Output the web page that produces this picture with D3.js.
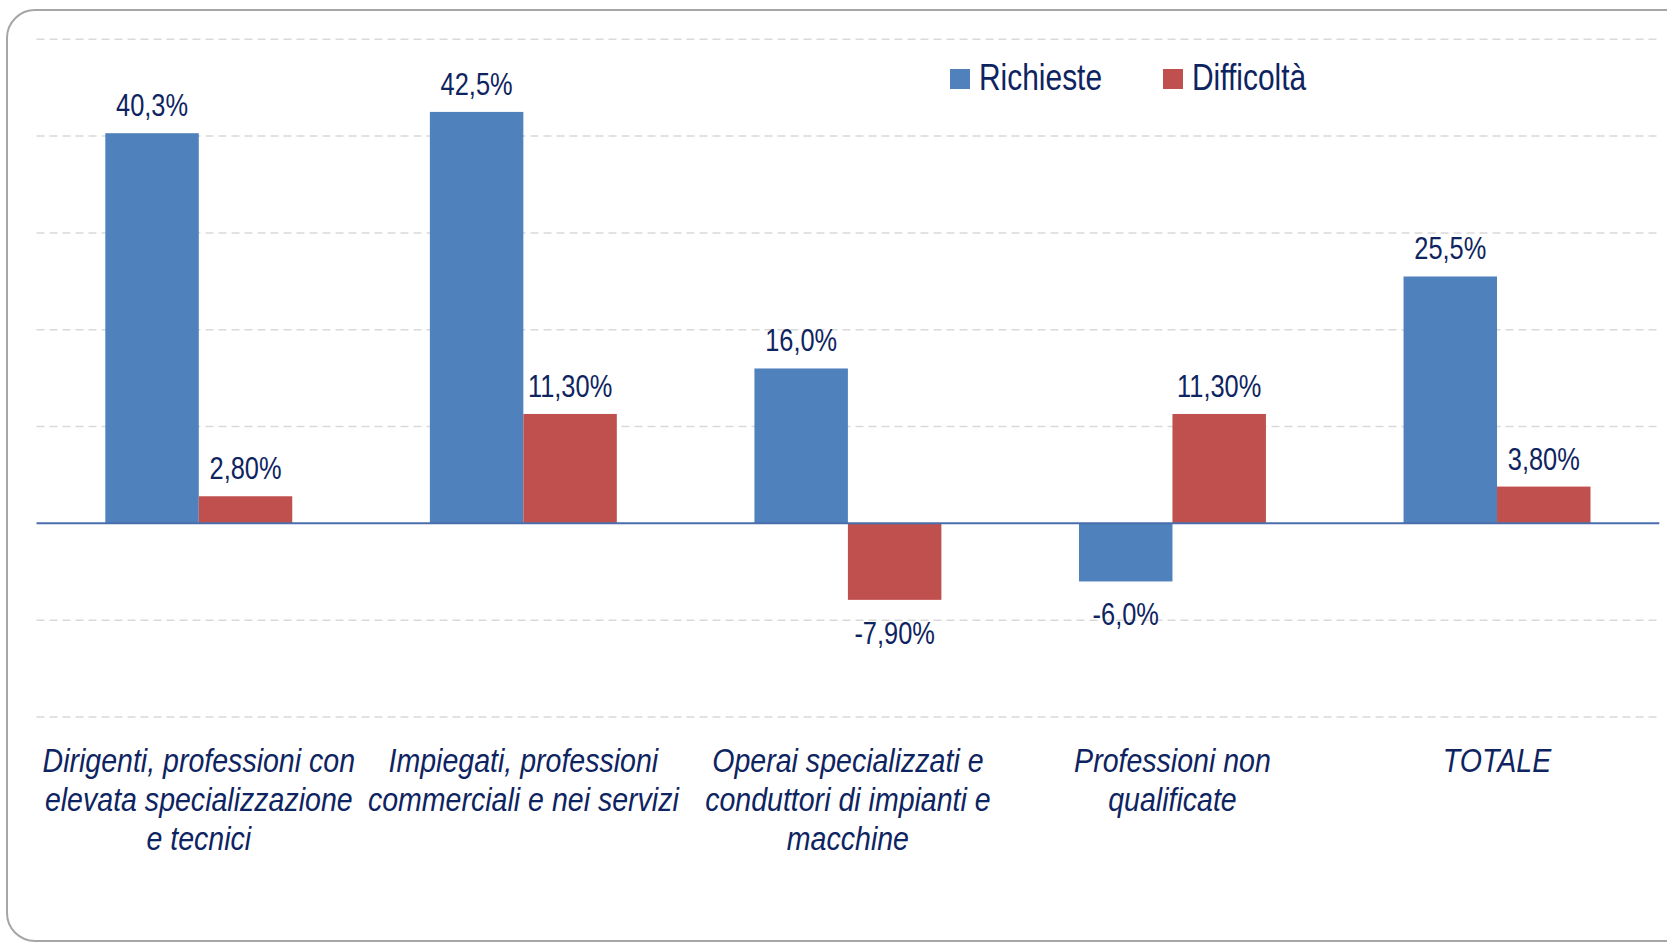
<!DOCTYPE html>
<html>
<head>
<meta charset="utf-8">
<script src="https://cdn.jsdelivr.net/npm/d3@7"></script>
<style>
  body { margin: 0; background: #fff; }
  svg text { font-family: "Liberation Sans", Arial, sans-serif; fill: #0e2461; }
</style>
</head>
<body>
<div id="chart-container"></div>
<script>
// data
const categories = [
  ['Dirigenti, professioni con', 'elevata specializzazione', 'e tecnici'],
  ['Impiegati, professioni', 'commerciali e nei servizi'],
  ['Operai specializzati e', 'conduttori di impianti e', 'macchine'],
  ['Professioni non', 'qualificate'],
  ['TOTALE']
]
const seriesNames = ['Richieste', 'Difficoltà']
const richieste = [40.3, 42.5, 16.0, -6.0, 25.5]
const difficolta = [2.8, 11.3, -7.9, 11.3, 3.8]
const decimals = [1, 2]
const yTicks = [-20, -10, 0, 10, 20, 30, 40, 50]

// constants
const width = 1667
const height = 943
const colors = ['#4f81bd', '#c0504d']
const plot = {left: 36.5, right: 1659.3, top: 39.3, bottom: 717}
const narrow = 0.82 // squeeze Liberation Sans to look like Arial Narrow

const itLocale = d3.formatLocale({decimal: ',', thousands: '.', grouping: [3], currency: ['', '€'], minus: '-'})

const svg = d3.select('#chart-container')
  .append('svg')
  .attr('width', width)
  .attr('height', height)

// frame
svg.append('rect')
  .attr('x', 7).attr('y', 10)
  .attr('width', 1720).attr('height', 931)
  .attr('rx', 28).attr('ry', 28)
  .attr('fill', 'none')
  .attr('stroke', '#a6a6a6')
  .attr('stroke-width', 2)

const idx = d3.range(categories.length)
const x0 = d3.scaleBand()
  .domain(idx)
  .range([plot.left, plot.right])
  .paddingInner(0.424)
  .paddingOuter(0.212)

const x1 = d3.scaleBand()
  .domain([0, 1])
  .range([0, x0.bandwidth()])

const y = d3.scaleLinear()
  .domain([-20, 50])
  .range([plot.bottom, plot.top])

// gridlines
svg.append('g')
  .selectAll('line')
  .data(yTicks.filter(t => t !== 0)).enter()
  .append('line')
  .attr('x1', plot.left).attr('x2', plot.right)
  .attr('y1', d => y(d)).attr('y2', d => y(d))
  .attr('stroke', '#d9d9d9')
  .attr('stroke-width', 1.5)
  .attr('stroke-dasharray', '8,5')

const rows = idx.map(i => [richieste[i], difficolta[i]])

const groups = svg.append('g')
  .selectAll('g')
  .data(rows).enter()
  .append('g')
  .attr('transform', (d, i) => `translate(${x0(i)},0)`)

groups.selectAll('rect')
  .data(d => d.map((v, s) => ({v, s}))).enter()
  .append('rect')
  .attr('x', d => x1(d.s))
  .attr('width', x1.bandwidth())
  .attr('y', d => y(Math.max(0, d.v)))
  .attr('height', d => Math.abs(y(d.v) - y(0)))
  .attr('fill', d => colors[d.s])

groups.selectAll('text')
  .data(d => d.map((v, s) => ({v, s}))).enter()
  .append('text')
  .attr('transform', d => {
    const tx = x1(d.s) + x1.bandwidth() / 2
    const ty = d.v >= 0 ? y(d.v) - 17 : y(d.v) + 44
    return `translate(${tx},${ty}) scale(${narrow},1)`
  })
  .attr('text-anchor', 'middle')
  .attr('font-size', '31px')
  .text(d => itLocale.format('.' + decimals[d.s] + 'f')(d.v) + '%')

// zero axis
svg.append('line')
  .attr('x1', plot.left).attr('x2', plot.right)
  .attr('y1', y(0)).attr('y2', y(0))
  .attr('stroke', '#4a6ead')
  .attr('stroke-width', 2)

// category labels
const catG = svg.append('g')
  .selectAll('text')
  .data(categories).enter()
  .append('text')
  .attr('text-anchor', 'middle')
  .attr('font-size', '34px')
  .attr('font-style', 'italic')
  .attr('transform', (d, i) => `translate(${x0(i) + x0.bandwidth() / 2},772) scale(0.84,1)`)

catG.selectAll('tspan')
  .data(d => d).enter()
  .append('tspan')
  .attr('x', 0)
  .attr('y', (d, i) => i * 38.8)
  .text(d => d)

// legend
const legend = svg.append('g')
  .selectAll('g')
  .data(seriesNames).enter()
  .append('g')
  .attr('transform', (d, i) => `translate(${950 + i * 213},69)`)

legend.append('rect')
  .attr('width', 20).attr('height', 20)
  .attr('fill', (d, i) => colors[i])

legend.append('text')
  .attr('transform', `translate(29,21) scale(${narrow},1)`)
  .attr('font-size', '36.5px')
  .text(d => d)
</script>
</body>
</html>
